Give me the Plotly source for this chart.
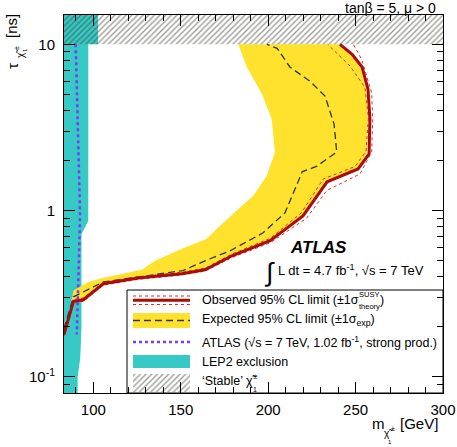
import numpy as np
import plotly.graph_objects as go

# ---------------- data ----------------
# LEP2 exclusion region boundary (m [GeV], tau [ns])
lep_m = [83.2, 102.6, 102.6, 97.1, 97.1, 95.5, 93.2, 93.2, 92.5, 91.0, 91.0, 83.2]
lep_tau = [15, 15, 10, 10, 0.87, 0.80, 0.72, 0.20, 0.13, 0.10, 0.08, 0.08]

# earlier ATLAS result (1.02 fb-1, strong production)
atlas_m = [89.9, 91.1, 91.8, 92.4, 91.4, 90.5]
atlas_tau = [10, 3.8, 1.9, 0.95, 0.38, 0.18]

# expected limit +-1 sigma band
band_hi_m = [83.2, 85.0, 88.6, 97.1, 105.7, 127.7, 135.3, 150.6, 164.9, 170.6, 182.0, 191.5, 199.2, 203.9, 202.0, 196.5, 187.9, 182.9]
band_hi_tau = [0.182, 0.209, 0.331, 0.372, 0.395, 0.441, 0.499, 0.589, 0.676, 0.777, 1.0, 1.23, 1.62, 2.25, 3.55, 5.0, 7.25, 10]
band_lo_m = [83.2, 88.6, 94.3, 105.7, 125.7, 150.6, 163.9, 179.3, 201.1, 219.9, 232.5, 251.0, 256.5, 257.0, 256.0, 253.0, 247.5, 241.1]
band_lo_tau = [0.182, 0.289, 0.295, 0.367, 0.397, 0.421, 0.445, 0.54, 0.666, 0.94, 1.45, 1.79, 2.22, 3.55, 5.37, 7.2, 8.7, 10]

# expected limit
exp_m = [83.2, 88.6, 105.7, 125.7, 151.3, 163.9, 178.2, 197.1, 209.6, 217.1, 219.4, 227.9, 239.2, 237.7, 232.5, 223.9, 212.5, 205.1, 199.3]
exp_tau = [0.195, 0.303, 0.372, 0.399, 0.436, 0.499, 0.573, 0.735, 0.97, 1.49, 1.71, 1.85, 2.25, 3.31, 4.88, 6.0, 7.28, 9.46, 10]

# observed limit
obs_m = [83.2, 88.6, 94.3, 105.7, 125.7, 150.6, 163.9, 179.3, 201.1, 219.9, 233.7, 251.4, 257.7, 258.2, 257.1, 253.7, 248.0, 241.1]
obs_tau = [0.18, 0.285, 0.291, 0.363, 0.393, 0.417, 0.441, 0.535, 0.66, 0.93, 1.49, 1.78, 2.19, 3.55, 5.37, 7.3, 8.7, 10]

# observed +-1 sigma (theory)
obs_up_m = [83.2, 88.6, 94.3, 105.7, 125.7, 150.6, 163.9, 179.3, 201.1, 219.0, 231.5, 249.6, 256.0, 257.3, 255.4, 246.8, 234.0]
obs_up_tau = [0.185, 0.292, 0.298, 0.37, 0.40, 0.425, 0.45, 0.548, 0.68, 0.97, 1.55, 1.84, 2.27, 3.6, 5.5, 7.4, 10]
obs_dn_m = [83.2, 88.6, 94.3, 105.7, 125.7, 150.6, 163.9, 179.3, 201.1, 222.0, 233.5, 252.5, 259.2, 259.8, 259.2, 253.5, 248.7]
obs_dn_tau = [0.176, 0.279, 0.285, 0.356, 0.386, 0.41, 0.433, 0.522, 0.64, 0.90, 1.32, 1.66, 2.25, 3.55, 5.1, 8.1, 10]

# 'stable' chargino region
stable_m = [83.2, 300, 300, 83.2]
stable_tau = [10, 10, 15, 15]

x_ticks = [100, 150, 200, 250, 300]
y_ticks = [0.1, 1, 10]
y_ticktext = ["10<sup>-1</sup>", "1", "10"]
y_minor = [0.08, 0.09, 0.2, 0.3, 0.4, 0.5, 0.6, 0.7, 0.8, 0.9, 2, 3, 4, 5, 6, 7, 8, 9]

# ---------------- styling ----------------
FONT = "Liberation Sans, Arial, sans-serif"
W, H = 457, 447
ML, MR, MT, MB = 64, 14, 15, 54
PW, PH = W - ML - MR, H - MT - MB

CYAN = "#36c9c6"
YELLOW = "#ffe22e"
DARKRED = "#a80c0c"
RED = "#e8281e"
PURPLE = "#7a3cf0"
HATCH = "#3c3c30"
HPAT = dict(shape="/", fgcolor=HATCH, size=4, solidity=0.35)
LEGF = 12.5


def X(px):
    return (px - ML) / PW


def Y(py):
    return (H - MB - py) / PH


fig = go.Figure()

# LEP2 exclusion
fig.add_trace(go.Scatter(x=lep_m, y=lep_tau, fill="toself", fillcolor=CYAN,
                         line=dict(width=0), mode="lines", hoverinfo="skip"))
# expected band
fig.add_trace(go.Scatter(x=band_hi_m + band_lo_m[::-1], y=band_hi_tau + band_lo_tau[::-1],
                         fill="toself", fillcolor=YELLOW, line=dict(width=0),
                         mode="lines", hoverinfo="skip"))
# expected line
fig.add_trace(go.Scatter(x=exp_m, y=exp_tau, mode="lines",
                         line=dict(color="#333333", width=1.3, dash="7px,4px")))
# theory dotted lines
fig.add_trace(go.Scatter(x=obs_up_m, y=obs_up_tau, mode="lines",
                         line=dict(color=RED, width=1, dash="dot")))
fig.add_trace(go.Scatter(x=obs_dn_m, y=obs_dn_tau, mode="lines",
                         line=dict(color=RED, width=1, dash="dot")))
# observed
fig.add_trace(go.Scatter(x=obs_m, y=obs_tau, mode="lines",
                         line=dict(color=DARKRED, width=3)))
# ATLAS earlier result
fig.add_trace(go.Scatter(x=atlas_m, y=atlas_tau, mode="lines",
                         line=dict(color=PURPLE, width=2.5, dash="dot")))
# stable region hatch
fig.add_trace(go.Scatter(x=stable_m, y=stable_tau, fill="toself", fillcolor="rgba(0,0,0,0)",
                         fillpattern=HPAT, line=dict(width=0), mode="lines", hoverinfo="skip"))

# ---------------- legend (drawn on an overlay axis in paper units) ----------------
lx0, lx1 = X(133), X(190)


def leg_line(py, color, width, dash="solid"):
    fig.add_trace(go.Scatter(x=[lx0, lx1], y=[Y(py), Y(py)], mode="lines",
                             line=dict(color=color, width=width, dash=dash),
                             xaxis="x2", yaxis="y2"))


def leg_rect(py0, py1, color, pattern=None):
    kw = dict(fillcolor=color)
    if pattern:
        kw["fillpattern"] = pattern
    fig.add_trace(go.Scatter(x=[lx0, lx1, lx1, lx0, lx0],
                             y=[Y(py0), Y(py0), Y(py1), Y(py1), Y(py0)],
                             fill="toself", mode="lines", line=dict(width=0),
                             xaxis="x2", yaxis="y2", **kw))


# legend box
fig.add_trace(go.Scatter(x=[X(127), X(443), X(443), X(127), X(127)],
                         y=[Y(290), Y(290), Y(393), Y(393), Y(290)],
                         fill="toself", fillcolor="white", mode="lines",
                         line=dict(color="black", width=1), xaxis="x2", yaxis="y2"))
leg_line(296, RED, 1, "dot")
leg_line(304.5, RED, 1, "dot")
leg_line(300.3, DARKRED, 3)
leg_rect(313, 328, YELLOW)
leg_line(320.5, "#333333", 1.3, "7px,4px")
leg_line(342, PURPLE, 2.5, "dot")
leg_rect(355, 368, CYAN)
leg_rect(374, 392, "rgba(0,0,0,0)", HPAT)

for tr in fig.data:
    tr.showlegend = False

# ---------------- annotations ----------------
ann = []


def txt(px, py, s, size, xanchor="left", yanchor="middle", angle=0):
    ann.append(dict(x=X(px), y=Y(py), xref="paper", yref="paper", text=s, showarrow=False,
                    xanchor=xanchor, yanchor=yanchor, textangle=angle, borderpad=0,
                    font=dict(family=FONT, size=size, color="black")))


txt(437, 8, "tanβ = 5, μ > 0", 14, xanchor="right")
txt(289, 247, "<b><i>ATLAS</i></b>", 17)
txt(269, 272, "∫", 26, xanchor="center")
txt(277, 270, "L dt = 4.7 fb<sup>-1</sup>, √s = 7 TeV", 13)

txt(201, 300, "Observed 95% CL limit (±1σ", LEGF)
txt(357.5, 294, "SUSY", 7.5)
txt(357.5, 306.5, "theory", 7.5)
txt(379, 300, ")", LEGF)
txt(201, 320, "Expected 95% CL limit (±1σ<sub>exp</sub>)", LEGF)
txt(201, 342, "ATLAS (√s = 7 TeV, 1.02 fb<sup>-1</sup>, strong prod.)", LEGF)
txt(201, 362, "LEP2 exclusion", LEGF)
txt(201, 381, "‘Stable’ χ\u0303", LEGF)
txt(252, 376, "±", 8)
txt(251.5, 389, "1", 7)

# x-axis title
txt(371, 423, "m", 15)
txt(383, 434, "χ\u0303", 10)
txt(390, 428, "±", 7)
txt(387, 442, "1", 6)
txt(399, 423, "[GeV]", 15)

# y-axis title (rotated)
txt(13, 66, "τ", 15, xanchor="center", angle=-90)
txt(21, 54, "χ\u0303", 10, xanchor="center", angle=-90)
txt(16, 48, "±", 7, xanchor="center", angle=-90)
txt(25, 50, "1", 6, xanchor="center", angle=-90)
txt(12, 26, "[ns]", 15, xanchor="center", angle=-90)

axis_common = dict(showline=True, linecolor="black", linewidth=1, mirror="allticks",
                   ticks="inside", ticklen=11, tickwidth=1, tickcolor="black",
                   showgrid=False, zeroline=False, automargin=False,
                   tickfont=dict(family=FONT, size=15, color="black"))

fig.update_layout(
    width=W, height=H, autosize=False,
    margin=dict(l=ML, r=MR, t=MT, b=MB, pad=0, autoexpand=False),
    paper_bgcolor="white", plot_bgcolor="white",
    showlegend=False,
    xaxis=dict(range=[83.2, 300], tickmode="array", tickvals=x_ticks,
               minor=dict(ticks="inside", ticklen=6, dtick=10, tick0=0, tickcolor="black",
                          showgrid=False),
               ticklabelstandoff=3, **axis_common),
    yaxis=dict(type="log", range=[np.log10(0.08), np.log10(15)], tickmode="array",
               tickvals=y_ticks, ticktext=y_ticktext,
               minor=dict(ticks="inside", ticklen=6, tickmode="array", tickvals=y_minor,
                          tickcolor="black", showgrid=False),
               ticklabelstandoff=5, **axis_common),
    xaxis2=dict(range=[0, 1], overlaying="x", visible=False, fixedrange=True, automargin=False),
    yaxis2=dict(range=[0, 1], overlaying="y", visible=False, fixedrange=True, automargin=False),
    annotations=ann,
)

fig.write_html("out.html")
